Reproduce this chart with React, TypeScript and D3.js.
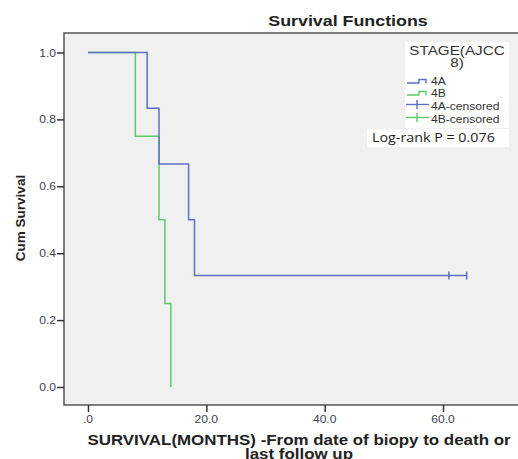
import React, { useEffect, useRef } from "react";
import * as d3 from "d3";

// Kaplan-Meier steps
const groups = ["4A", "4B"];
const times4A = [0, 10, 12, 17, 18, 64];
const surv4A = [1, 0.833, 0.667, 0.5, 0.333, 0.333];
const censored4A = [61, 64];
const times4B = [0, 8, 12, 13, 14];
const surv4B = [1, 0.75, 0.5, 0.25, 0];
const censored4B: number[] = [];
const xTicks = [0, 20, 40, 60];
const yTicks = [0, 0.2, 0.4, 0.6, 0.8, 1.0];
const legendLabels = ["4A", "4B", "4A-censored", "4B-censored"];

const App = () => {
  const ref = useRef<SVGSVGElement>(null);

  useEffect(() => {
    var svg = d3.select(ref.current);
    svg.selectAll("*").remove();

    var frame = { left: 64, top: 33, right: 530, bottom: 405 };

    var x = d3.scaleLinear().domain([0, 60]).range([88, 443]);
    var y = d3.scaleLinear().domain([0, 1]).range([387, 52.5]);
    var color = d3.scaleOrdinal<string>().domain(groups).range(["#5f6fc2", "#5ccb6a"]);

    var font = "Arial, 'Liberation Sans', sans-serif";

    // the source picture is stretched sideways, so text gets a horizontal scale
    function label(
      g: any,
      px: number,
      py: number,
      str: string,
      size: number,
      opts: { bold?: boolean; sx?: number; anchor?: string; fill?: string; family?: string; rotate?: number }
    ) {
      var t = g
        .append("text")
        .attr(
          "transform",
          "translate(" + px + "," + py + ")" + (opts.rotate ? " rotate(" + opts.rotate + ")" : "") + " scale(" + (opts.sx || 1) + ",1)"
        )
        .attr("text-anchor", opts.anchor || "start")
        .style("font-family", opts.family || font)
        .style("font-size", size + "px")
        .style("font-weight", opts.bold ? "bold" : "normal")
        .style("fill", opts.fill || "#222")
        .text(str);
      return t;
    }

    // title
    label(svg, 348, 26, "Survival Functions", 15, { bold: true, sx: 1.19, anchor: "middle" });

    // plot area
    svg
      .append("rect")
      .attr("x", frame.left)
      .attr("y", frame.top)
      .attr("width", frame.right - frame.left)
      .attr("height", frame.bottom - frame.top)
      .attr("fill", "#f0f0f0")
      .attr("stroke", "#555")
      .attr("stroke-width", 1.5);

    // y axis
    var yAxis = svg
      .append("g")
      .attr("transform", "translate(" + frame.left + ",0)")
      .call(d3.axisLeft(y).tickValues(yTicks).tickFormat(() => "").tickSize(7));
    yAxis.select(".domain").remove();
    yAxis.selectAll("line").attr("stroke", "#333").attr("stroke-width", 1.5);
    yTicks.forEach(function (v) {
      label(svg, frame.left - 8, y(v) + 4, d3.format(".1f")(v), 11.5, { anchor: "end", sx: 1.05, fill: "#3a3f55" });
    });

    // x axis
    var xAxis = svg
      .append("g")
      .attr("transform", "translate(0," + frame.bottom + ")")
      .call(d3.axisBottom(x).tickValues(xTicks).tickFormat(() => "").tickSize(7));
    xAxis.select(".domain").remove();
    xAxis.selectAll("line").attr("stroke", "#333").attr("stroke-width", 1.5);
    xTicks.forEach(function (v) {
      label(svg, x(v), 423, v === 0 ? ".0" : d3.format(".1f")(v), 11.5, { anchor: "middle", sx: 1.05, fill: "#3a3f55" });
    });

    // axis titles
    label(svg, 25, 218, "Cum Survival", 13.5, { bold: true, anchor: "middle", rotate: -90 });
    label(svg, 299, 445, "SURVIVAL(MONTHS) -From date of biopy to death or", 14, { bold: true, sx: 1.21, anchor: "middle" });
    label(svg, 299, 459, "last follow up", 14, { bold: true, sx: 1.21, anchor: "middle" });

    // curves
    var line = d3
      .line<[number, number]>()
      .curve(d3.curveStepAfter)
      .x((d) => x(d[0]))
      .y((d) => y(d[1]));

    var series = [
      { name: "4A", pts: times4A.map((t, i) => [t, surv4A[i]] as [number, number]), cens: censored4A, times: times4A, surv: surv4A },
      { name: "4B", pts: times4B.map((t, i) => [t, surv4B[i]] as [number, number]), cens: censored4B, times: times4B, surv: surv4B },
    ];

    // draw 4B first so 4A sits on top where they overlap
    series
      .slice()
      .reverse()
      .forEach(function (s) {
        svg
          .append("path")
          .attr("d", line(s.pts))
          .attr("fill", "none")
          .attr("stroke", color(s.name))
          .attr("stroke-width", 1.5);

        s.cens.forEach(function (c) {
          var idx = d3.bisectRight(s.times, c) - 1;
          var sv = s.surv[idx];
          svg
            .append("line")
            .attr("x1", x(c))
            .attr("x2", x(c))
            .attr("y1", y(sv) - 4)
            .attr("y2", y(sv) + 4)
            .attr("stroke", color(s.name))
            .attr("stroke-width", 1.5);
        });
      });

    // legend
    var lg = svg.append("g");
    lg.append("rect").attr("x", 405).attr("y", 42).attr("width", 104).attr("height", 86).attr("fill", "#fff");
    label(lg, 457, 54.5, "STAGE(AJCC", 12.5, { anchor: "middle", sx: 1.22, fill: "#333" });
    label(lg, 457, 67, "8)", 12.5, { anchor: "middle", sx: 1.22, fill: "#333" });

    var rowY = [84.5, 96.5, 110, 123];
    legendLabels.forEach(function (lab, i) {
      var c = color(groups[i % 2]);
      if (i < 2) {
        var yy = rowY[i] - 1.5;
        lg.append("path")
          .attr("d", "M407," + yy + "H419V" + (yy - 3.5) + "H426V" + (yy + 0.5))
          .attr("fill", "none")
          .attr("stroke", c)
          .attr("stroke-width", 1.4);
      } else {
        var yc = rowY[i] - 5.5;
        lg.append("line").attr("x1", 406).attr("x2", 429).attr("y1", yc).attr("y2", yc).attr("stroke", c).attr("stroke-width", 1.4);
        lg.append("line").attr("x1", 417).attr("x2", 417).attr("y1", yc - 4.5).attr("y2", yc + 4.5).attr("stroke", c).attr("stroke-width", 1.4);
      }
      label(lg, 431, rowY[i], lab, 11.5, { sx: 1.05, fill: "#333" });
    });

    // log-rank annotation
    svg.append("rect").attr("x", 367).attr("y", 129).attr("width", 142).attr("height", 18).attr("fill", "#fff");
    label(svg, 372, 142, "Log-rank P = 0.076", 13, {
      sx: 1.1,
      fill: "#222",
      family: "'Open Sans', 'Liberation Sans', sans-serif",
    });
  }, []);

  return (
    <svg
      ref={ref}
      width={518}
      height={459}
      style={{ position: "absolute", left: 0, top: 0, overflow: "hidden", background: "#fff" }}
    />
  );
};

export default App;
